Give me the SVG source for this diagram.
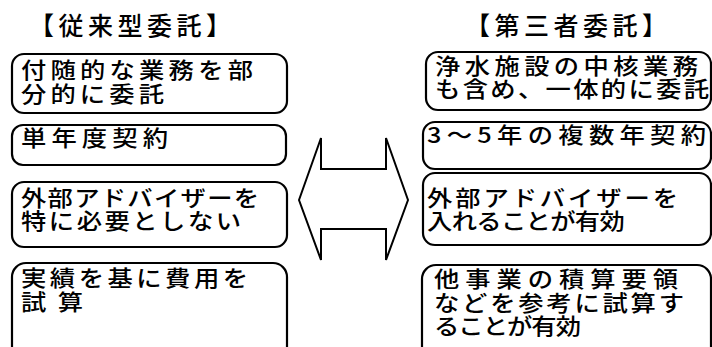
<svg xmlns="http://www.w3.org/2000/svg" width="712" height="347" viewBox="0 0 712 347">
<style>
.box{fill:#fff;stroke:#000;stroke-width:2.2}
.t{font-family:"Noto Sans CJK JP","Noto Sans CJK SC",sans-serif;font-size:22px;font-weight:500;fill:#000}
.h{font-family:"Noto Sans CJK JP","Noto Sans CJK SC",sans-serif;font-size:25px;font-weight:500;fill:#000;letter-spacing:4.5px}
.arrow{fill:#fff;stroke:#000;stroke-width:2;stroke-linejoin:miter}
</style>
<rect width="712" height="347" fill="#fff"/>
<g id="title-left"><text class="h" x="29" y="35">【従来型委託】</text></g>
<g id="title-right"><text class="h" x="465" y="35">【第三者委託】</text></g>

<g id="left-1">
<rect class="box" x="12" y="54" width="275" height="59" rx="12"/>
<text class="t" transform="translate(21,78) scale(1.15,1)" textLength="201.7" lengthAdjust="spacing">付随的な業務を部</text>
<text class="t" transform="translate(21,102) scale(1.15,1)" textLength="124.3" lengthAdjust="spacing">分的に委託</text>
</g>
<g id="left-2">
<rect class="box" x="12" y="125" width="274" height="40" rx="11"/>
<text class="t" transform="translate(21,146) scale(1.15,1)" textLength="127.8" lengthAdjust="spacing">単年度契約</text>
</g>
<g id="left-3">
<rect class="box" x="12" y="182" width="275" height="65" rx="12"/>
<text class="t" transform="translate(21,206) scale(1.15,1)" textLength="207" lengthAdjust="spacing">外部アドバイザーを</text>
<text class="t" transform="translate(21,229) scale(1.15,1)" textLength="191.3" lengthAdjust="spacing">特に必要としない</text>
</g>
<g id="left-4">
<rect class="box" x="12" y="263" width="275" height="110" rx="14"/>
<text class="t" transform="translate(21,286) scale(1.15,1)" textLength="197.4" lengthAdjust="spacing">実績を基に費用を</text>
<text class="t" transform="translate(21,310) scale(1.15,1)" textLength="53.9" lengthAdjust="spacing">試算</text>
</g>

<g id="right-1">
<rect class="box" x="426" y="52" width="285" height="58" rx="12"/>
<text class="t" transform="translate(435,74) scale(1.15,1)" textLength="228.7" lengthAdjust="spacing">浄水施設の中核業務</text>
<text class="t" transform="translate(435,97) scale(1.15,1)" textLength="238.3" lengthAdjust="spacing">も含め、一体的に委託</text>
</g>
<g id="right-2">
<rect class="box" x="423" y="122" width="288" height="47" rx="12"/>
<text class="t" transform="translate(427,143) scale(1.15,1)" textLength="242.6" lengthAdjust="spacing">3〜5年の複数年契約</text>
</g>
<g id="right-3">
<rect class="box" x="423" y="173" width="288" height="72" rx="12"/>
<text class="t" transform="translate(427,206) scale(1.15,1)" textLength="218.3" lengthAdjust="spacing">外部アドバイザーを</text>
<text class="t" transform="translate(427,229) scale(1.15,1)" textLength="172" lengthAdjust="spacing">入れることが有効</text>
</g>
<g id="right-4">
<rect class="box" x="422" y="265" width="289" height="110" rx="14"/>
<text class="t" transform="translate(434,287) scale(1.15,1)" textLength="212.2" lengthAdjust="spacing">他事業の積算要領</text>
<text class="t" transform="translate(434,311) scale(1.15,1)" textLength="217.4" lengthAdjust="spacing">などを参考に試算す</text>
<text class="t" transform="translate(434,334) scale(1.15,1)" textLength="127.8" lengthAdjust="spacing">ることが有効</text>
</g>

<g id="connectors">
<polygon class="arrow" points="299,200 321,138 321,169 386,169 386,138 408,200 386,260 386,229 321,229 321,260"/>
</g>
</svg>
